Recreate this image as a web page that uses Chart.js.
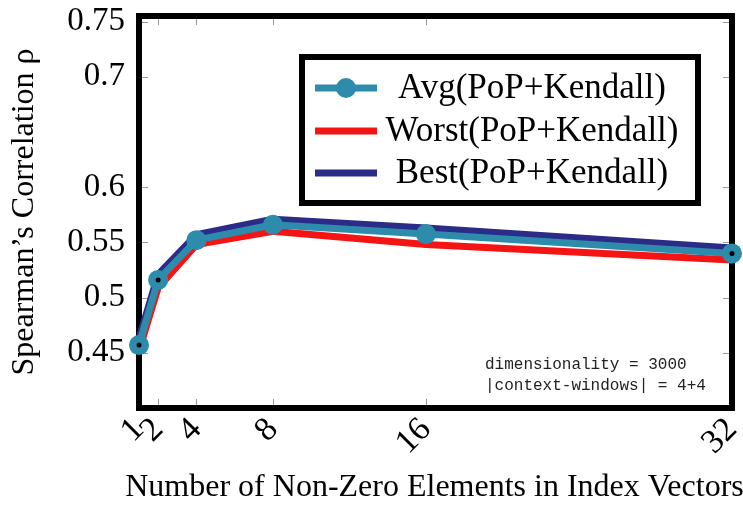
<!DOCTYPE html>
<html>
<head>
<meta charset="utf-8">
<script src="https://cdn.jsdelivr.net/npm/chart.js@4/dist/chart.umd.min.js"></script>
<style>
  html, body { margin: 0; padding: 0; background: #fff; }
  #wrap { width: 743px; height: 508px; }
</style>
</head>
<body>
<div id="wrap"><canvas id="chart" width="743" height="508"></canvas></div>
<script>
// number of non-zero elements
const xValues = [1, 2, 4, 8, 16, 32];
const xTicks = [1, 2, 4, 8, 16, 32];
const yTicks = [0.45, 0.5, 0.55, 0.6, 0.7, 0.75];

const avgValues = [0.457, 0.516, 0.552, 0.566, 0.5575, 0.540];
const worstValues = [0.452, 0.509, 0.548, 0.560, 0.548, 0.534];
const bestValues = [0.463, 0.521, 0.557, 0.571, 0.563, 0.545];
// points of the avg line that carry a small black centre mark
const markedX = [1, 2, 32];

const xTitle = "Number of Non-Zero Elements in Index Vectors";
const noteLines = ["dimensionality = 3000", "|context-windows| = 4+4"];

const TEAL = "#2d8cab";
const RED = "#f51414";
const NAVY = "#2b2b88";
const SERIF = "'Liberation Serif', 'Times New Roman', serif";

const toPoints = (vals) => xValues.map((x, i) => ({ x: x, y: vals[i] }));

// axis box and inner ticks go under the lines
const frame = {
  id: "frame",
  beforeDatasetsDraw(chart) {
    const { ctx, chartArea: a, scales } = chart;
    ctx.save();
    ctx.strokeStyle = "#999";
    ctx.lineWidth = 1;
    ctx.beginPath();
    for (const v of xTicks) {
      const px = Math.round(scales.x.getPixelForValue(v)) + 0.5;
      ctx.moveTo(px, a.bottom); ctx.lineTo(px, a.bottom - 9);
      ctx.moveTo(px, a.top); ctx.lineTo(px, a.top + 9);
    }
    for (const v of yTicks) {
      const py = Math.round(scales.y.getPixelForValue(v)) + 0.5;
      ctx.moveTo(a.left, py); ctx.lineTo(a.left + 9, py);
      ctx.moveTo(a.right, py); ctx.lineTo(a.right - 9, py);
    }
    ctx.stroke();
    ctx.strokeStyle = "#000";
    ctx.lineWidth = 6;
    ctx.strokeRect(a.left, a.top, a.right - a.left, a.bottom - a.top);
    ctx.restore();
  }
};

// legend box, the note and the x title (chart.js would squeeze it to the axis width)
const overlay = {
  id: "overlay",
  afterDraw(chart) {
    const { ctx, chartArea: a } = chart;
    ctx.save();
    const lx = 302, ly = 57, lw = 396, lh = 146;
    ctx.strokeStyle = "#000";
    ctx.lineWidth = 6;
    ctx.fillStyle = "#fff";
    ctx.fillRect(lx, ly, lw, lh);
    ctx.strokeRect(lx, ly, lw, lh);
    const rows = [88, 131, 173];
    const sets = chart.data.datasets.filter((d) => !d.hideInLegend);
    sets.forEach((ds, i) => {
      const y = rows[i];
      ctx.strokeStyle = ds.borderColor;
      ctx.lineWidth = 7;
      ctx.beginPath();
      ctx.moveTo(315, y); ctx.lineTo(377, y);
      ctx.stroke();
      if (ds.pointRadius > 0) {
        ctx.fillStyle = ds.borderColor;
        ctx.beginPath();
        ctx.arc(346, y, 10, 0, Math.PI * 2);
        ctx.fill();
      }
      ctx.fillStyle = "#000";
      ctx.font = "35px " + SERIF;
      ctx.textAlign = "center";
      ctx.textBaseline = "middle";
      ctx.fillText(ds.label, 532, y + 1);
    });

    ctx.fillStyle = "#000";
    ctx.font = "32px " + SERIF;
    ctx.textAlign = "center";
    ctx.textBaseline = "middle";
    ctx.fillText(xTitle, (a.left + a.right) / 2 - 1, 488);

    ctx.fillStyle = "#222";
    ctx.font = "16px 'Liberation Mono', 'DejaVu Sans Mono', monospace";
    ctx.textAlign = "left";
    noteLines.forEach((t, i) => ctx.fillText(t, 485, 365 + i * 21));
    ctx.restore();
  }
};

new Chart(document.getElementById("chart"), {
  type: "line",
  data: {
    datasets: [
      {
        label: "Avg(PoP+Kendall)",
        data: toPoints(avgValues),
        borderColor: TEAL,
        backgroundColor: TEAL,
        borderWidth: 7,
        pointRadius: 10,
        pointHoverRadius: 10,
        pointBorderWidth: 0,
        clip: 14,
        order: 1,
      },
      {
        label: "Worst(PoP+Kendall)",
        data: toPoints(worstValues),
        borderColor: RED,
        borderWidth: 7,
        pointRadius: 0,
        clip: 14,
        order: 2,
      },
      {
        label: "Best(PoP+Kendall)",
        data: toPoints(bestValues),
        borderColor: NAVY,
        borderWidth: 7,
        pointRadius: 0,
        clip: 14,
        order: 3,
      },
      {
        label: "marks",
        hideInLegend: true,
        data: toPoints(avgValues).filter((p) => markedX.includes(p.x)),
        showLine: false,
        pointRadius: 2.5,
        pointBorderWidth: 0,
        backgroundColor: "#000",
        borderColor: "#000",
        clip: 14,
        order: 0,
      },
    ],
  },
  options: {
    responsive: false,
    animation: false,
    events: [],
    layout: { padding: { top: 16, right: 11, left: 0, bottom: 0 } },
    elements: { line: { tension: 0, borderJoinStyle: "round" } },
    plugins: { legend: { display: false }, tooltip: { enabled: false } },
    scales: {
      x: {
        type: "linear",
        min: 1,
        max: 32,
        grid: { display: false, drawTicks: false },
        border: { display: false },
        afterBuildTicks: (s) => { s.ticks = xTicks.map((v) => ({ value: v })); },
        afterFit: (s) => { s.height = 100; s.paddingLeft = 0; s.paddingRight = 0; },
        ticks: {
          autoSkip: false,
          minRotation: 45,
          maxRotation: 45,
          padding: 2,
          color: "#000",
          font: { family: SERIF, size: 34 },
          callback: (v) => String(v),
        },
      },
      y: {
        min: 0.4,
        max: 0.755,
        grid: { display: false, drawTicks: false },
        border: { display: false },
        afterBuildTicks: (s) => { s.ticks = yTicks.map((v) => ({ value: v })); },
        afterFit: (s) => { s.width = 139; s.paddingTop = 0; s.paddingBottom = 0; },
        ticks: {
          padding: 14,
          color: "#000",
          font: { family: SERIF, size: 33 },
          callback: (v) => String(v),
        },
        title: {
          display: true,
          text: "Spearman’s Correlation ρ",
          color: "#000",
          font: { family: SERIF, size: 32 },
          padding: { top: 5, bottom: 0 },
        },
      },
    },
  },
  plugins: [frame, overlay],
});
</script>
</body>
</html>
